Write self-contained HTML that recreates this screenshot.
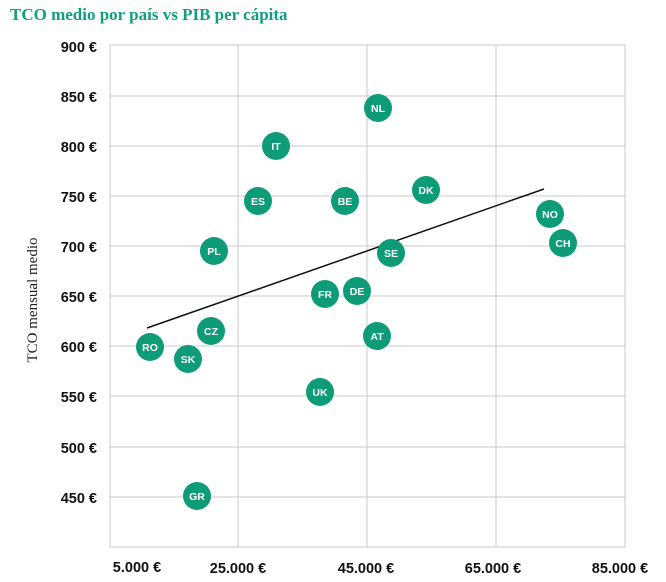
<!DOCTYPE html><html><head><style>body{margin:0;background:#fff}</style></head><body>
<svg width="666" height="577" xmlns="http://www.w3.org/2000/svg" font-family="Liberation Sans, sans-serif">
<text x="10" y="20" font-family="Liberation Serif, serif" font-weight="bold" font-size="17" fill="#109e7e">TCO medio por país vs PIB per cápita</text>
<g stroke="#c8c8c8" stroke-width="1" fill="none">
<rect x="110" y="45" width="515" height="502"/>
<line x1="238" y1="45" x2="238" y2="547"/><line x1="367" y1="45" x2="367" y2="547"/><line x1="496" y1="45" x2="496" y2="547"/>
<line x1="110" y1="96" x2="625" y2="96"/><line x1="110" y1="146" x2="625" y2="146"/><line x1="110" y1="196" x2="625" y2="196"/><line x1="110" y1="246" x2="625" y2="246"/><line x1="110" y1="296" x2="625" y2="296"/><line x1="110" y1="346" x2="625" y2="346"/><line x1="110" y1="396" x2="625" y2="396"/><line x1="110" y1="447" x2="625" y2="447"/><line x1="110" y1="497" x2="625" y2="497"/>
</g>
<g font-weight="bold" font-size="14.5" fill="#111" text-anchor="end">
<text x="97" y="52">900 €</text><text x="97" y="102">850 €</text><text x="97" y="152">800 €</text><text x="97" y="202">750 €</text><text x="97" y="252">700 €</text><text x="97" y="302">650 €</text><text x="97" y="352">600 €</text><text x="97" y="402">550 €</text><text x="97" y="453">500 €</text><text x="97" y="503">450 €</text>
</g>
<g font-weight="bold" font-size="14.5" fill="#111" text-anchor="middle">
<text x="137" y="572">5.000 €</text><text x="238" y="573">25.000 €</text><text x="366" y="573">45.000 €</text><text x="493" y="573">65.000 €</text><text x="620" y="573">85.000 €</text>
</g>
<text transform="translate(37,300) rotate(-90)" text-anchor="middle" font-family="Liberation Serif, serif" font-size="15" fill="#222">TCO mensual medio</text>
<line x1="147" y1="328" x2="544" y2="189" stroke="#111" stroke-width="1.5"/>
<g fill="#0e9b77">
<circle cx="378" cy="108" r="14"/><circle cx="276" cy="146" r="14"/><circle cx="426" cy="190" r="14"/><circle cx="258" cy="201" r="14"/><circle cx="345" cy="201" r="14"/><circle cx="550" cy="214" r="14"/><circle cx="214" cy="251" r="14"/><circle cx="391" cy="253" r="14"/><circle cx="563" cy="243" r="14"/><circle cx="325" cy="294" r="14"/><circle cx="357" cy="291" r="14"/><circle cx="211" cy="331" r="14"/><circle cx="377" cy="336" r="14"/><circle cx="150" cy="347" r="14"/><circle cx="188" cy="359" r="14"/><circle cx="320" cy="392" r="14"/><circle cx="197" cy="496" r="14"/>
</g>
<g fill="#fff" font-weight="bold" font-size="10.5" text-anchor="middle">
<text x="378" y="112">NL</text><text x="276" y="150">IT</text><text x="426" y="194">DK</text><text x="258" y="205">ES</text><text x="345" y="205">BE</text><text x="550" y="218">NO</text><text x="214" y="255">PL</text><text x="391" y="257">SE</text><text x="563" y="247">CH</text><text x="325" y="298">FR</text><text x="357" y="295">DE</text><text x="211" y="335">CZ</text><text x="377" y="340">AT</text><text x="150" y="351">RO</text><text x="188" y="363">SK</text><text x="320" y="396">UK</text><text x="197" y="500">GR</text>
</g>
</svg></body></html>
